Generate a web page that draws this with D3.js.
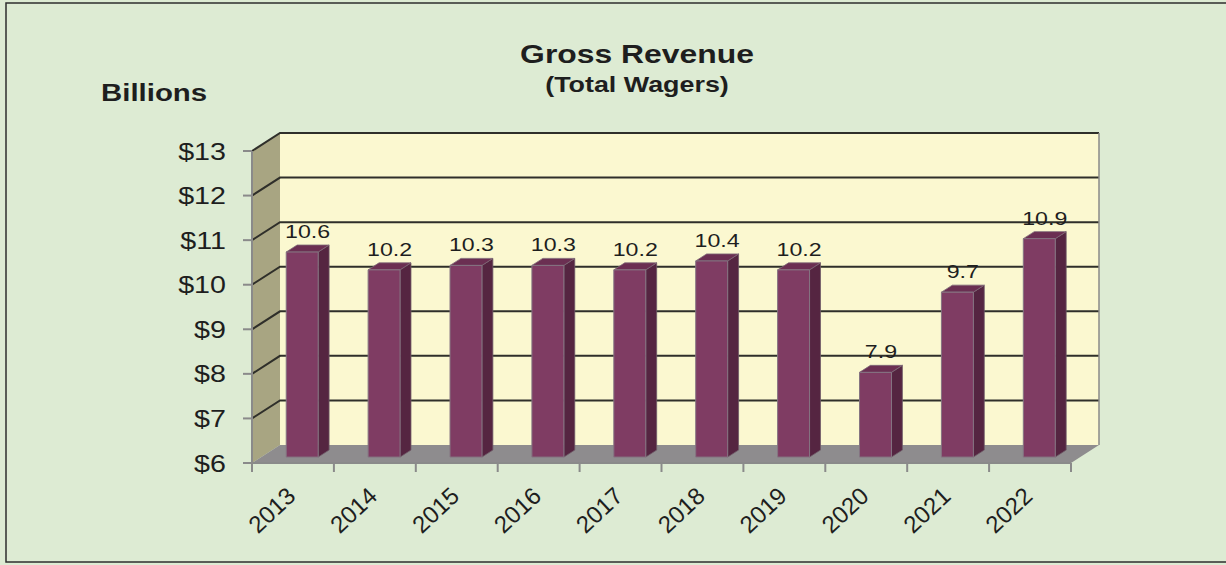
<!DOCTYPE html>
<html>
<head>
<meta charset="utf-8">
<script src="https://cdn.jsdelivr.net/npm/d3@7"></script>
<style>
  body { margin: 0; background: #ddebd3; }
  svg { display: block; font-family: Arial, "Liberation Sans", sans-serif; }
</style>
</head>
<body>
<div id="container"></div>
<script>
const years = ["2013", "2014", "2015", "2016", "2017", "2018", "2019", "2020", "2021", "2022"];
const revenue = [10.6, 10.2, 10.3, 10.3, 10.2, 10.4, 10.2, 7.9, 9.7, 10.9];
const yTicks = [6, 7, 8, 9, 10, 11, 12, 13];

const width = 1226, height = 565;
const depthX = 28, depthY = -18;   // wall depth offset
const barF0 = 0.33, barF1 = 0.72;  // bar depth inside the floor
const stretch = 1.22;              // the whole chart text looks widened

const svg = d3.select("#container").append("svg")
  .attr("width", width).attr("height", height);

svg.append("rect").attr("width", width).attr("height", height).attr("fill", "#ddebd3");
svg.append("rect").attr("x", 6).attr("y", 3).attr("width", width + 10).attr("height", height - 6)
  .attr("fill", "none").attr("stroke", "#2e2e2e").attr("stroke-width", 1.5);

const x = d3.scaleBand().domain(years).range([252, 1071]).paddingInner(0.61).paddingOuter(0.305);
const y = d3.scaleLinear().domain([6, 13]).range([463, 151]);
const x0 = x.range()[0], x1 = x.range()[1];
const step = x.step();

// point at a depth fraction f (0 = front, 1 = back wall)
const pt = (px, py, f) => [px + f * depthX, py + f * depthY];
const line = d3.line();

// back wall
svg.append("path")
  .attr("d", line([pt(x0, y(13), 1), pt(x1, y(13), 1), pt(x1, y(6), 1), pt(x0, y(6), 1)]) + "Z")
  .attr("fill", "#fbf8d0");
// left wall
svg.append("path")
  .attr("d", line([[x0, y(6)], [x0, y(13)], pt(x0, y(13), 1), pt(x0, y(6), 1)]) + "Z")
  .attr("fill", "#a8a582");
// floor
svg.append("path")
  .attr("d", line([[x0, y(6)], pt(x0, y(6), 1), pt(x1, y(6), 1), [x1, y(6)]]) + "Z")
  .attr("fill", "#8e8c8e");

// grid lines on back wall and left wall
const grid = svg.append("g").attr("stroke", "#2f2f2a").attr("stroke-width", 2).attr("fill", "none");
yTicks.filter(v => v > 6).forEach(v => {
  grid.append("path").attr("d", line([[x0, y(v)], pt(x0, y(v), 1), pt(x1, y(v), 1)]));
});
// right edge of back wall
svg.append("path").attr("d", line([pt(x1, y(13), 1), pt(x1, y(6), 1)]))
  .attr("stroke", "#8a8a88").attr("stroke-width", 1.5);

// axes lines
const axisColor = "#8a8a8a";
svg.append("line").attr("x1", x0).attr("x2", x0).attr("y1", y(13)).attr("y2", y(6))
  .attr("stroke", axisColor).attr("stroke-width", 2);
svg.append("line").attr("x1", x0).attr("x2", x1).attr("y1", y(6)).attr("y2", y(6))
  .attr("stroke", axisColor).attr("stroke-width", 2);

svg.append("g").selectAll("line").data(yTicks).join("line")
  .attr("x1", x0 - 9).attr("x2", x0).attr("y1", d => y(d)).attr("y2", d => y(d))
  .attr("stroke", axisColor).attr("stroke-width", 2);

svg.append("g").selectAll("line").data(d3.range(years.length + 1)).join("line")
  .attr("x1", i => x0 + i * step).attr("x2", i => x0 + i * step)
  .attr("y1", y(6)).attr("y2", y(6) + 9)
  .attr("stroke", axisColor).attr("stroke-width", 2);

// y tick labels
svg.append("g").selectAll("text").data(yTicks).join("text")
  .attr("transform", d => `translate(${x0 - 26},${y(d) + 8.5}) scale(${stretch},1)`)
  .attr("text-anchor", "end").attr("font-size", 23.5).attr("fill", "#1e1e1e")
  .text(d => "$" + d);

// x tick labels
svg.append("g").selectAll("text").data(years).join("text")
  .attr("transform", d => `translate(${x(d) + x.bandwidth() / 2 + 4},${y(6) + 35}) rotate(-43)`)
  .attr("text-anchor", "end").attr("font-size", 24).attr("fill", "#1e1e1e")
  .text(d => d);

// bars
const bars = svg.append("g").selectAll("g").data(years).join("g");
const bw = x.bandwidth();
bars.each(function (d, i) {
  const g = d3.select(this);
  const left = x(d), right = x(d) + bw;
  const top = y(revenue[i]), base = y(6);
  const fl = pt(left, top, barF0), fr = pt(right, top, barF0);
  const bl = pt(left, base, barF0), br = pt(right, base, barF0);
  const tbl = pt(left, top, barF1), tbr = pt(right, top, barF1);
  const bbr = pt(right, base, barF1);
  g.append("path").attr("d", line([fr, tbr, bbr, br]) + "Z")
    .attr("fill", "#552541").attr("stroke", "#6e5a67").attr("stroke-width", 0.8);
  g.append("path").attr("d", line([fl, tbl, tbr, fr]) + "Z")
    .attr("fill", "#6b2f52").attr("stroke", "#7d6a77").attr("stroke-width", 0.8);
  g.append("path").attr("d", line([fl, fr, br, bl]) + "Z")
    .attr("fill", "#7f3c63").attr("stroke", "#857482").attr("stroke-width", 1);
  g.append("text")
    .attr("transform", `translate(${(fl[0] + tbr[0]) / 2},${tbl[1] - 7}) scale(${stretch},1)`)
    .attr("text-anchor", "middle").attr("font-size", 19).attr("fill", "#1e1e1e")
    .text(revenue[i]);
});

// titles
svg.append("text").attr("transform", `translate(637,63) scale(1.25,1)`)
  .attr("text-anchor", "middle").attr("font-size", 25.5).attr("font-weight", "bold").attr("fill", "#1e1e1e")
  .text("Gross Revenue");
svg.append("text").attr("transform", `translate(637,92) scale(1.25,1)`)
  .attr("text-anchor", "middle").attr("font-size", 21.5).attr("font-weight", "bold").attr("fill", "#1e1e1e")
  .text("(Total Wagers)");
svg.append("text").attr("transform", `translate(101,101) scale(1.2,1)`)
  .attr("font-size", 24.5).attr("font-weight", "bold").attr("fill", "#1e1e1e")
  .text("Billions");
</script>
</body>
</html>
